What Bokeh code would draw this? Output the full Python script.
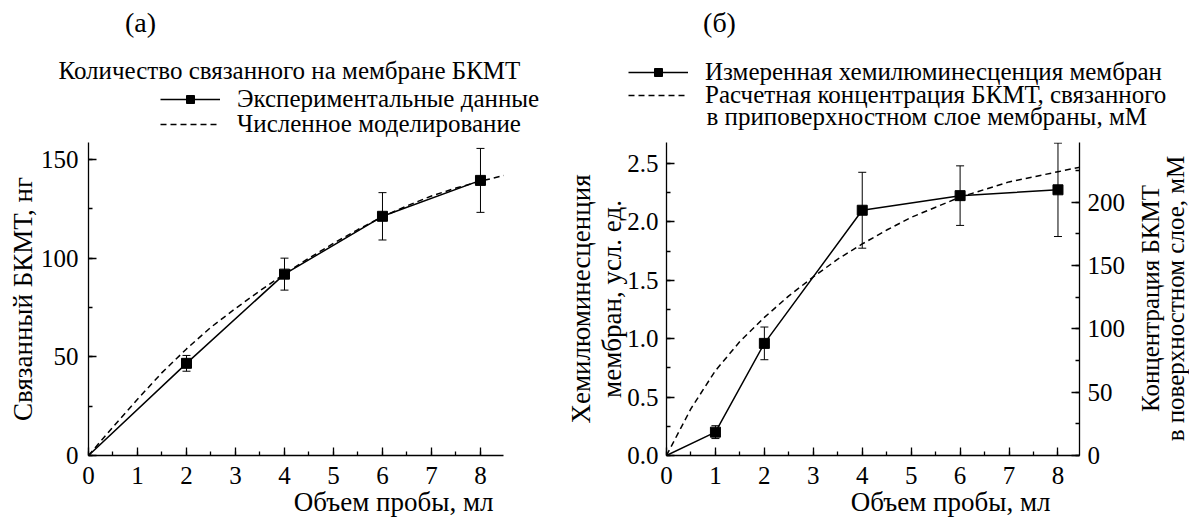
from bokeh.plotting import figure
from bokeh.layouts import row, column
from bokeh.models import (Range1d, LinearAxis, SingleIntervalTicker, Whisker, TeeHead,
                          ColumnDataSource, Legend, LegendItem, Label, Title,
                          PrintfTickFormatter)
from bokeh.embed import file_html
from bokeh.resources import INLINE

# ---- panel (a): bound BKMT on the membrane, ng ----
volume_a = [0, 2, 4, 6, 8]
bound_a = [0, 46.7, 91.9, 121.2, 139.4]
bound_err_a = [0, 4.0, 8.1, 12.0, 16.2]
model_x_a = [0, 0.5, 1, 1.5, 2, 2.5, 3, 3.5, 4, 4.5, 5, 5.5, 6, 6.5, 7, 7.5, 8, 8.5]
model_y_a = [0, 14.5, 28.5, 42, 54, 65, 74.5, 83.5, 92, 100, 107.5, 114.5, 121,
             126.5, 131.5, 135.5, 139, 142]

# ---- panel (б): membrane chemiluminescence and computed concentration ----
volume_b = [0, 1, 2, 4, 6, 8]
chemi_b = [0, 0.20, 0.96, 2.10, 2.225, 2.275]
chemi_err_b = [0, 0.055, 0.14, 0.325, 0.255, 0.40]
model_x_b = [0, 0.5, 1, 1.5, 2, 2.5, 3, 3.5, 4, 4.5, 5, 5.5, 6, 6.5, 7, 7.5, 8, 8.5]
model_conc_b = [0, 37, 67, 90, 109, 126, 141, 155, 167, 178, 188, 196, 204, 210,
                216, 220, 224, 228]

SERIF = "Liberation Serif"
FS = "25px"        # tick labels, legend and header text
FS_AXIS = "27px"   # axis titles
W, H = 1189, 518
HEADER_H = 142
PLOT_H = H - HEADER_H


def style_axis(ax, interval, standoff):
    ax.ticker = SingleIntervalTicker(interval=interval, num_minor_ticks=2)
    ax.axis_line_color = "black"
    ax.axis_line_width = 1.3
    ax.major_tick_in = 8
    ax.major_tick_out = 0
    ax.minor_tick_in = 4
    ax.minor_tick_out = 0
    ax.major_tick_line_color = "black"
    ax.minor_tick_line_color = "black"
    ax.major_tick_line_width = 1.3
    ax.minor_tick_line_width = 1.3
    ax.major_label_text_font = SERIF
    ax.major_label_text_font_size = FS
    ax.major_label_text_color = "black"
    ax.major_label_standoff = standoff
    ax.axis_label_text_font = SERIF
    ax.axis_label_text_font_size = FS_AXIS
    ax.axis_label_text_font_style = "normal"
    ax.axis_label_text_color = "black"


def text(p, x, y, s, align="left", size=FS, angle=0.0):
    p.add_layout(Label(x=x, y=y, x_units="screen", y_units="screen", text=s,
                       text_font=SERIF, text_font_size=size, text_color="black",
                       text_align=align, text_baseline="middle", angle=angle))


def one_row_legend(p, label, renderers, x, y):
    lg = Legend(items=[LegendItem(label=label, renderers=renderers)],
                location=(x, y), orientation="vertical",
                glyph_width=60, glyph_height=20, label_height=20,
                label_standoff=17, padding=0, margin=0, spacing=0,
                border_line_alpha=0, background_fill_alpha=0,
                inactive_fill_alpha=0,
                label_text_font=SERIF, label_text_font_size=FS,
                label_text_color="black")
    p.add_layout(lg, "center")


def x_title(p, offset):
    p.add_layout(Title(text="Объем пробы, мл", align="right", offset=offset,
                       vertical_align="top", standoff=0, text_font=SERIF,
                       text_font_size=FS_AXIS, text_font_style="normal",
                       text_color="black"), "below")


def bare(width, height, top=0, bottom=0):
    f = figure(width=width, height=height, output_backend="svg", toolbar_location=None,
               x_range=Range1d(0, width), y_range=Range1d(0, height),
               x_axis_type=None, y_axis_type=None, min_border=0,
               min_border_top=top, min_border_bottom=bottom)
    f.outline_line_color = None
    return f


# ================= header: panel letters, title and legends =================
hdr = bare(W, HEADER_H)
# legend swatches: hidden copies of the series, styled like the plotted ones
sw_exp_a = hdr.line(volume_a, bound_a, line_color="black", line_width=1.5, visible=False)
sw_pts_a = hdr.scatter(volume_a, bound_a, marker="square", size=7, fill_color="black",
                       line_color="black", visible=False)
sw_mod_a = hdr.line(model_x_a, model_y_a, line_color="black", line_width=1.5,
                    line_dash="6 4", visible=False)
sw_exp_b = hdr.line(volume_b, chemi_b, line_color="black", line_width=1.5, visible=False)
sw_pts_b = hdr.scatter(volume_b, chemi_b, marker="square", size=7, fill_color="black",
                       line_color="black", visible=False)
sw_mod_b = hdr.line(model_x_b, model_conc_b, line_color="black", line_width=1.5,
                    line_dash="6 4", visible=False)

text(hdr, 140, 120, "(а)", align="center", size="28px")
text(hdr, 58, 72, "Количество связанного на мембране БКМТ")
one_row_legend(hdr, "Экспериментальные данные", [sw_exp_a, sw_pts_a], 160, 29)
one_row_legend(hdr, "Численное моделирование", [sw_mod_a], 160, 4)

text(hdr, 719, 120, "(б)", align="center", size="28px")
one_row_legend(hdr, "Измеренная хемилюминесценция мембран", [sw_exp_b, sw_pts_b], 628, 56)
one_row_legend(hdr, "Расчетная концентрация БКМТ, связанного", [sw_mod_b], 628, 33)
text(hdr, 706, 26, "в приповерхностном слое мембраны, мМ")

# ================= panel (a) =================
pa = figure(width=560, height=PLOT_H, output_backend="svg", toolbar_location=None,
            x_range=Range1d(0, 8.47), y_range=Range1d(0, 158.6),
            min_border_left=88, min_border_right=57, min_border_top=0,
            min_border_bottom=62)
pa.outline_line_color = None
pa.xgrid.visible = False
pa.ygrid.visible = False
style_axis(pa.xaxis[0], 1, 11)
style_axis(pa.yaxis[0], 50, 10)
pa.yaxis[0].axis_label = "Связанный БКМТ, нг"
pa.yaxis[0].axis_label_standoff = 0
x_title(pa, 10)

src_a = ColumnDataSource(dict(x=volume_a[1:], y=bound_a[1:],
                              upper=[v + e for v, e in zip(bound_a[1:], bound_err_a[1:])],
                              lower=[v - e for v, e in zip(bound_a[1:], bound_err_a[1:])]))
pa.add_layout(Whisker(source=src_a, base="x", upper="upper", lower="lower",
                      line_color="black", line_width=1,
                      upper_head=TeeHead(size=8, line_width=1, line_color="black"),
                      lower_head=TeeHead(size=8, line_width=1, line_color="black")))
pa.line(model_x_a, model_y_a, line_color="black", line_width=1.5, line_dash="6 4")
pa.line(volume_a, bound_a, line_color="black", line_width=1.5)
pa.scatter("x", "y", source=src_a, marker="square", size=10,
           fill_color="black", line_color="black")

# ================= panel (б) =================
pb = figure(width=570, height=PLOT_H, output_backend="svg", toolbar_location=None,
            x_range=Range1d(0, 8.44), y_range=Range1d(0, 2.68),
            min_border_left=106, min_border_right=51, min_border_top=0,
            min_border_bottom=61)
pb.extra_y_ranges = {"mm": Range1d(0, 247.1)}
pb.outline_line_color = None
pb.xgrid.visible = False
pb.ygrid.visible = False
style_axis(pb.xaxis[0], 1, 11)
style_axis(pb.yaxis[0], 0.5, 8)
pb.yaxis[0].formatter = PrintfTickFormatter(format="%.1f")
pb.yaxis[0].axis_label = "Хемилюминесценция\nмембран, усл. ед."
pb.yaxis[0].axis_label_text_line_height = 1.05
pb.yaxis[0].axis_label_standoff = -3
right_ax = LinearAxis(y_range_name="mm")
style_axis(right_ax, 50, 8)
pb.add_layout(right_ax, "right")
x_title(pb, 29)

src_b = ColumnDataSource(dict(x=volume_b[1:], y=chemi_b[1:],
                              upper=[v + e for v, e in zip(chemi_b[1:], chemi_err_b[1:])],
                              lower=[v - e for v, e in zip(chemi_b[1:], chemi_err_b[1:])]))
pb.add_layout(Whisker(source=src_b, base="x", upper="upper", lower="lower",
                      line_color="black", line_width=1,
                      upper_head=TeeHead(size=8, line_width=1, line_color="black"),
                      lower_head=TeeHead(size=8, line_width=1, line_color="black")))
pb.line(model_x_b, model_conc_b, y_range_name="mm", line_color="black",
        line_width=1.5, line_dash="6 4")
pb.line(volume_b, chemi_b, line_color="black", line_width=1.5)
pb.scatter("x", "y", source=src_b, marker="square", size=10,
           fill_color="black", line_color="black")

# ================= strip with the right-axis title =================
pr = bare(W - 560 - 570, PLOT_H, top=0, bottom=61)
text(pr, 20, 157, "Концентрация БКМТ", align="center", angle=1.5708)
text(pr, 45, 157, "в поверхностном слое, мМ", align="center", angle=1.5708)

layout = column(hdr, row(pa, pb, pr))
open("out.html", "w").write(file_html(layout, INLINE))
